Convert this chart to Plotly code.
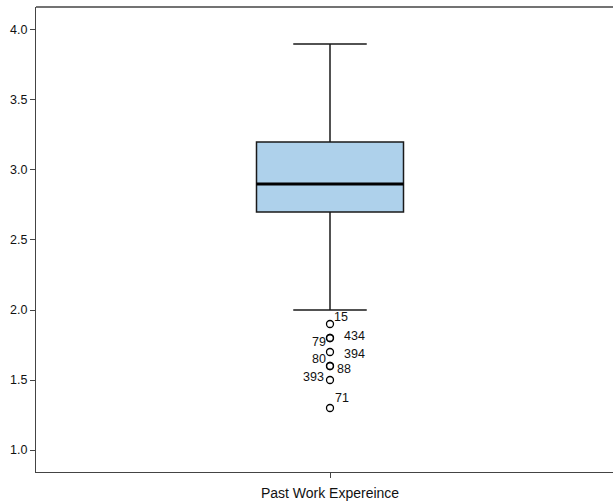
import plotly.graph_objects as go

# Summary statistics for the variable
variable = "Past Work Expereince"
q1 = 2.7
median = 2.9
q3 = 3.2
lower_whisker = 2.0
upper_whisker = 3.9

# Outlying cases: value and case id
outlier_values = [1.9, 1.8, 1.8, 1.7, 1.6, 1.6, 1.5, 1.3]
outlier_ids = ["15", "434", "79", "394", "80", "88", "393", "71"]
# label offsets (pixels) relative to each point
label_dx = [11, 24, -11, 24, -11, 14, -17, 12]
label_dy = [7, 2, -4, -2, 7, -3, 3, 10]

y_ticks = [1.0, 1.5, 2.0, 2.5, 3.0, 3.5, 4.0]

xpos = 1.0
box_w = 0.5

FONT = "Liberation Sans, Arial, sans-serif"

fig = go.Figure()

fig.add_trace(go.Box(
    x=[xpos], q1=[q1], median=[median], q3=[q3],
    lowerfence=[lower_whisker], upperfence=[upper_whisker],
    width=box_w, whiskerwidth=0.5,
    fillcolor="#aed1eb",
    line=dict(color="#1a1a1a", width=1.5),
    boxpoints=False, hoverinfo="skip", showlegend=False,
))

# heavier median bar
fig.add_trace(go.Scatter(
    x=[xpos - box_w / 2, xpos + box_w / 2], y=[median, median],
    mode="lines", line=dict(color="black", width=2.8),
    hoverinfo="skip", showlegend=False,
))

fig.add_trace(go.Scatter(
    x=[xpos] * len(outlier_values), y=outlier_values,
    mode="markers",
    marker=dict(symbol="circle-open", size=7, color="black", line=dict(width=1.3)),
    hoverinfo="skip", showlegend=False,
))

for v, lab, dx, dy in zip(outlier_values, outlier_ids, label_dx, label_dy):
    fig.add_annotation(
        x=xpos, y=v, text=lab, showarrow=False,
        xshift=dx, yshift=dy,
        font=dict(family=FONT, size=12.5, color="#111111"),
    )

# top frame line
fig.add_shape(type="line", xref="paper", yref="paper", x0=0, x1=1, y0=1, y1=1,
              line=dict(color="#444444", width=1.3))

fig.update_layout(
    width=613, height=504,
    margin=dict(l=36, r=0, t=7, b=32),
    paper_bgcolor="white", plot_bgcolor="white",
    font=dict(family=FONT, size=12.5, color="#111111"),
    xaxis=dict(
        range=[0, 577 / 294], tickvals=[xpos], ticktext=[variable],
        showgrid=False, zeroline=False, showline=True, linecolor="#444444", linewidth=1.3,
        ticks="outside", ticklen=5, tickcolor="#444444",
        tickfont=dict(size=14), ticklabelstandoff=3,
    ),
    yaxis=dict(
        range=[0.843, 4.164], tickvals=y_ticks, ticktext=[f"{t:.1f}" for t in y_ticks],
        showgrid=False, zeroline=False, showline=True, linecolor="#444444", linewidth=1.3,
        ticks="outside", ticklen=5, tickcolor="#444444",
        tickfont=dict(size=12.5),
    ),
)

fig.write_html("out.html")
